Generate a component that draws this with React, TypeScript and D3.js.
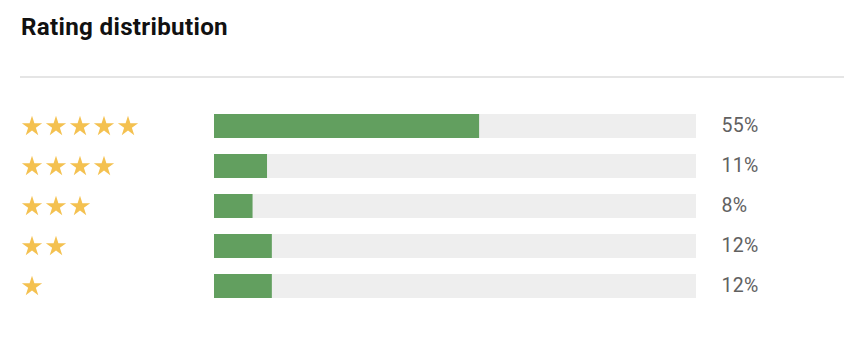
import { useRef, useEffect } from 'react';
import * as d3 from 'd3';

const ratings = [5, 4, 3, 2, 1];
const percents = [55, 11, 8, 12, 12];
const percentLabels = ['55%', '11%', '8%', '12%', '12%'];

const width = 844;
const height = 364;

export default function App() {
  const svgRef = useRef<SVGSVGElement>(null);

  function renderChart() {
    const svg = d3.select(svgRef.current);
    svg.selectAll('*').remove();
    svg.attr('viewBox', [0, 0, width, height]).style('font-family', 'Roboto, sans-serif');

    svg
      .append('text')
      .attr('x', 21)
      .attr('y', 35)
      .attr('font-size', 24.2)
      .attr('font-weight', 700)
      .attr('letter-spacing', 0.3)
      .attr('fill', '#111')
      .text('Rating distribution');

    svg
      .append('line')
      .attr('x1', 20)
      .attr('x2', width)
      .attr('y1', 77)
      .attr('y2', 77)
      .attr('stroke', '#dddddd')
      .attr('stroke-width', 1.5);

    // band = 24, step = 40
    const y = d3.scaleBand<number>().domain(ratings).range([114, 298 + 16]).paddingInner(0.4).paddingOuter(0);
    y.range([114, 114 + 40 * 5 - 16]);

    const x = d3.scaleLinear().domain([0, 100]).range([214, 696]);

    const rows = svg
      .selectAll('g.row')
      .data(ratings)
      .join('g')
      .attr('class', 'row')
      .attr('transform', d => `translate(0,${y(d)})`);

    rows
      .append('rect')
      .attr('x', x(0))
      .attr('width', x(100) - x(0))
      .attr('height', y.bandwidth())
      .attr('fill', '#eeeeee');

    rows
      .append('rect')
      .attr('x', x(0))
      .attr('width', (d, i) => x(percents[i]) - x(0))
      .attr('height', y.bandwidth())
      .attr('fill', '#629f5f');

    rows
      .append('text')
      .attr('x', 721.5)
      .attr('y', 17.6)
      .attr('font-size', 19.5)
      .attr('letter-spacing', 0.3)
      .attr('fill', '#616161')
      .text((d, i) => percentLabels[i]);

    const star = d3.symbol().type(d3.symbolStar).size(128)();
    rows
      .selectAll('path.star')
      .data(d => d3.range(d))
      .join('path')
      .attr('class', 'star')
      .attr('d', star)
      .attr('fill', '#f4c150')
      .attr('transform', i => `translate(${32 + i * 24},${12.5})`);
  }

  useEffect(() => {
    renderChart();
    // eslint-disable-next-line react-hooks/exhaustive-deps
  }, []);

  return (
    <div style={{ position: 'absolute', left: 0, top: 0 }}>
      <svg ref={svgRef} width={width} height={height} style={{ display: 'block' }} />
    </div>
  );
}
